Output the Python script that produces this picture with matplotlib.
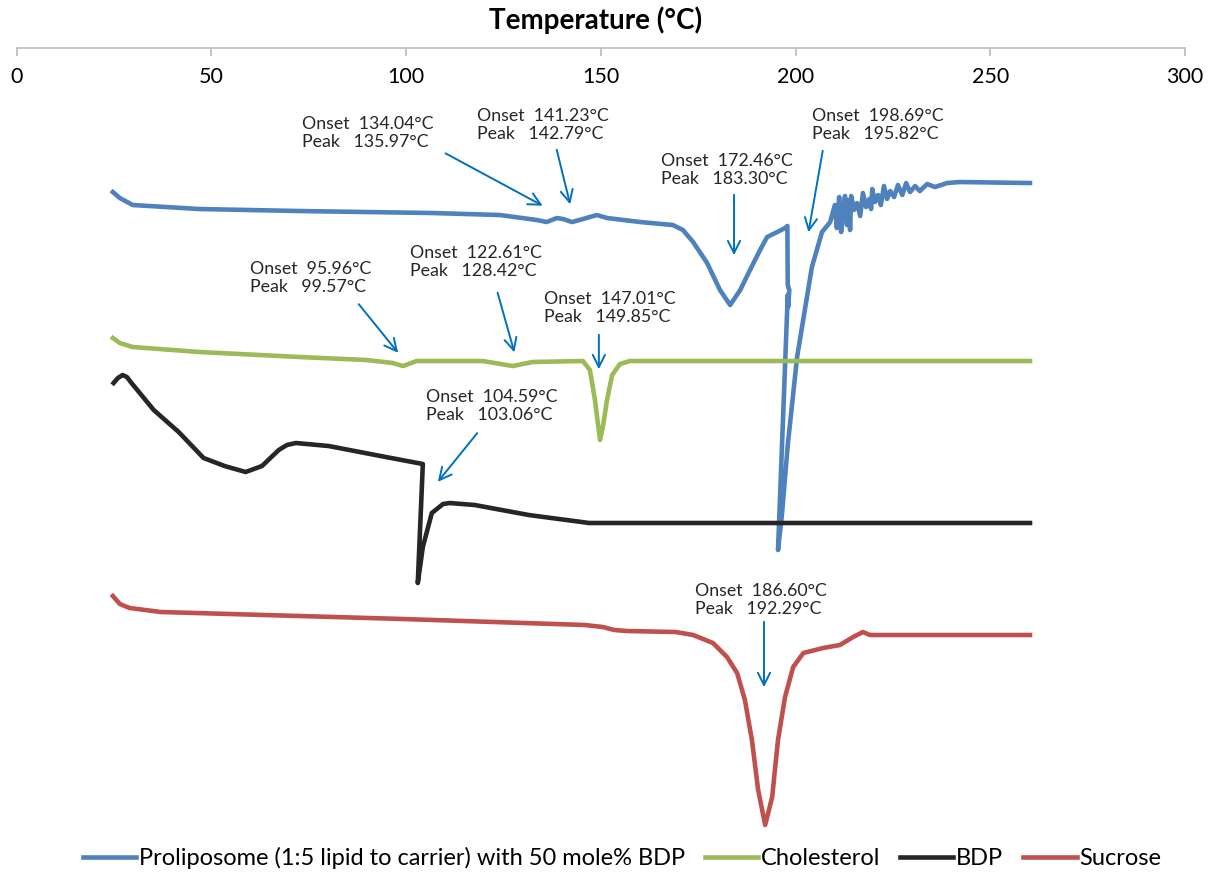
import matplotlib.pyplot as plt

plt.rcParams['font.family'] = ['Lato', 'DejaVu Sans']

# DSC traces, temperature in degC, signal in arbitrary units (offset per sample)
lipo_T = [24.7, 26.5, 29.8, 47.0, 72.7, 89.9, 106.9, 124.1, 133.6, 136.1, 138.7, 140.3,
          142.6, 145.4, 149.0, 151.6, 160.1, 168.5, 171.1, 173.7, 177.3, 180.6, 183.2,
          185.8, 188.3, 190.9, 192.7, 195.3, 197.3, 197.9, 198.0, 198.4, 198.1, 198.0,
          195.5, 196.5, 198.0, 200.4, 204.2, 206.8, 208.9,
          210.1, 210.6, 211.2, 211.7, 212.2, 212.7, 213.2, 213.7, 214.0, 214.3, 215.0,
          215.8, 216.6, 217.3, 218.1, 218.9, 219.4, 219.7, 220.4, 221.2, 221.9, 222.7,
          223.5, 224.3, 225.3, 226.3, 227.4, 228.4, 229.4, 230.7, 231.9, 233.8, 235.8,
          238.9, 242.2, 260.2]
lipo_y = [65.3, 64.7, 64.0, 63.6, 63.4, 63.3, 63.2, 63.0, 62.5, 62.3, 62.7, 62.6,
          62.3, 62.6, 63.0, 62.7, 62.3, 62.0, 61.5, 60.3, 58.2, 55.5, 54.0,
          55.5, 57.5, 59.5, 60.8, 61.3, 61.7, 61.9, 56.0, 55.5, 53.8, 55.0,
          29.5, 33.0, 40.0, 48.8, 57.8, 61.3, 62.3,
          64.0, 61.7, 64.8, 61.3, 63.5, 64.9, 62.0, 64.5, 61.5, 64.9, 63.5,
          64.2, 62.9, 65.2, 63.8, 64.6, 63.6, 65.6, 64.3, 65.0, 64.0, 65.9,
          64.6, 65.4, 64.8, 66.0, 65.0, 66.2, 65.3, 65.9, 65.4, 66.1, 65.8,
          66.2, 66.3, 66.2]

chol_T = [24.7, 26.5, 29.8, 47.0, 72.7, 89.9, 96.6, 99.2, 102.7, 119.7, 127.4, 132.5,
          145.4, 147.2, 148.5, 149.3, 149.8, 150.6, 151.6, 152.9, 154.9, 157.5, 260.2]
chol_y = [50.7, 50.2, 49.8, 49.3, 48.8, 48.5, 48.2, 47.9, 48.4, 48.4, 47.9, 48.3,
          48.4, 47.5, 44.5, 42.0, 40.5, 42.0, 44.5, 47.0, 48.1, 48.4, 48.4]

bdp_T = [24.9, 26.0, 27.2, 28.3, 29.5, 35.2, 41.6, 48.0, 53.4, 58.8, 63.0, 67.3, 69.4,
         71.7, 80.1, 94.8, 104.3, 103.0, 104.3, 106.6, 109.5, 111.2, 117.6, 131.5,
         147.0, 260.2]
bdp_y = [46.2, 46.7, 47.0, 46.8, 46.2, 43.5, 41.3, 38.7, 37.9, 37.3, 37.9, 39.5, 40.0,
         40.2, 39.9, 38.8, 38.1, 26.2, 29.8, 33.2, 34.1, 34.2, 34.0, 33.0,
         32.2, 32.2]

sucr_T = [24.7, 26.5, 29.0, 37.0, 99.2, 145.9, 150.5, 153.5, 156.7, 169.2, 173.7,
          178.8, 182.4, 185.0, 187.0, 188.8, 190.4, 192.2, 194.0, 195.5, 197.3, 199.4,
          202.0, 207.1, 211.4, 214.8, 217.3, 219.1, 260.2]
sucr_y = [24.9, 24.1, 23.7, 23.3, 22.6, 22.0, 21.8, 21.5, 21.4, 21.3, 21.0,
          20.2, 18.8, 17.2, 14.5, 10.5, 5.5, 2.0, 4.8, 10.5, 14.8, 17.8,
          19.2, 19.7, 20.0, 20.8, 21.3, 21.0, 21.0]

labels = ['Proliposome (1:5 lipid to carrier) with 50 mole% BDP', 'Cholesterol', 'BDP', 'Sucrose']
colors = ['#4F81BD', '#9BBB59', '#262626', '#C0504D']

# onset / peak annotations: text, text pos, arrow tail, arrow head
notes = [
    ('Onset  134.04°C\nPeak   135.97°C', (73.3, 72.5), (109.5, 69.3), (135.7, 63.8)),
    ('Onset  141.23°C\nPeak   142.79°C', (118.2, 73.3), (138.5, 69.8), (142.3, 63.8)),
    ('Onset  172.46°C\nPeak   183.30°C', (165.5, 68.8), (184.2, 65.3), (184.2, 58.7)),
    ('Onset  198.69°C\nPeak   195.82°C', (204.2, 73.3), (207.1, 69.7), (203.2, 61.0)),
    ('Onset  95.96°C\nPeak   99.57°C', (59.9, 58.0), (87.4, 54.3), (98.4, 49.0)),
    ('Onset  122.61°C\nPeak   128.42°C', (101.0, 59.6), (123.3, 55.5), (128.0, 49.0)),
    ('Onset  147.01°C\nPeak   149.85°C', (135.4, 55.0), (149.5, 51.3), (149.5, 47.3)),
    ('Onset  104.59°C\nPeak   103.06°C', (105.1, 45.2), (118.7, 41.4), (107.7, 36.1)),
    ('Onset  186.60°C\nPeak   192.29°C', (174.2, 25.8), (191.9, 22.6), (191.9, 15.5)),
]

fig = plt.figure(figsize=(12.15, 8.75), dpi=100)
ax = fig.add_axes([0.0137, 0.0343, 0.9616, 0.9108])

for T, y, lab, c in zip([lipo_T, chol_T, bdp_T, sucr_T], [lipo_y, chol_y, bdp_y, sucr_y], labels, colors):
    ax.plot(T, y, color=c, lw=3.3, label=lab, solid_joinstyle='round')

for txt, tpos, tail, head in notes:
    ax.text(tpos[0], tpos[1] + 0.45, txt, fontsize=12.8, va='top', ha='left',
            color='#262626', linespacing=1.22)
    ax.annotate('', xy=head, xytext=tail,
                arrowprops=dict(arrowstyle='->', color='#0070C0', lw=1.4,
                                mutation_scale=22))

ax.set_xlim(0, 300)
ax.set_ylim(0, 79.7)
ax.set_xticks(range(0, 301, 50))
ax.set_yticks([])
for s in ['top', 'left', 'right']:
    ax.spines[s].set_visible(False)
ax.spines['bottom'].set_position(('axes', 1.0))
ax.spines['bottom'].set_color('#BFBFBF')
ax.spines['bottom'].set_linewidth(1.3)
ax.tick_params(axis='x', direction='out', length=5.5, width=1.3, color='#BFBFBF',
               labelsize=15.5, pad=8, labelcolor='black')

fig.text(596 / 1215, 1 - 20 / 875, 'Temperature (°C)', ha='center', va='center',
         fontsize=20, fontweight='bold')

fig.legend(loc='center', bbox_to_anchor=(0.512, 1 - 858 / 875), ncol=4, frameon=False,
           fontsize=17, handlelength=2.25, handletextpad=0.12, columnspacing=0.85)

fig.savefig('out.png', dpi=100)
